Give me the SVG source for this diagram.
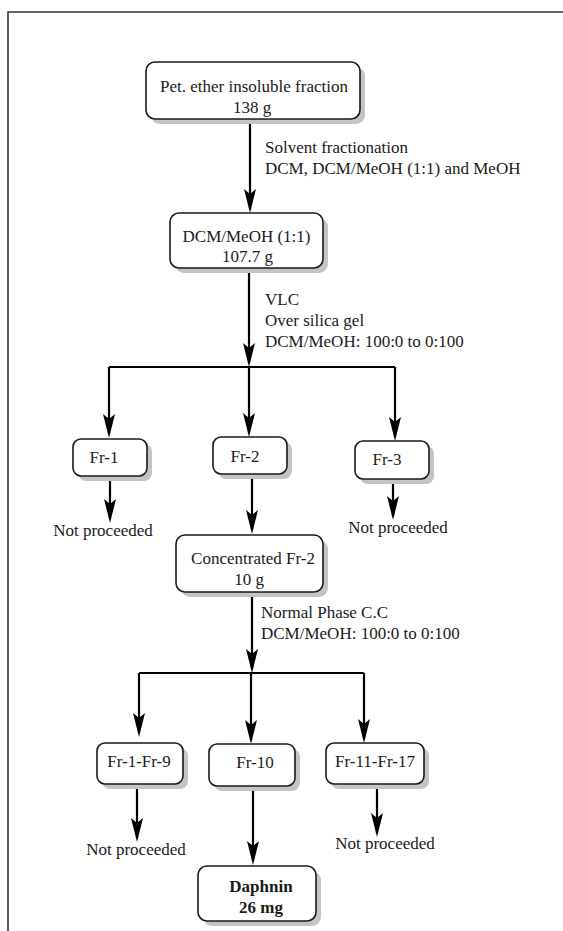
<svg xmlns="http://www.w3.org/2000/svg" width="563" height="931" viewBox="0 0 563 931">
<defs>
<style>
.t{font-family:'Liberation Serif','Times New Roman',Tinos,'DejaVu Serif',serif;font-size:17px;fill:#1a1a1a}
.c{text-anchor:middle}
.b{font-weight:bold}
.box{fill:#fff;stroke:#1a1a1a;stroke-width:1.6}
.sh{fill:#c4c4c4}
.ln{stroke:#000;stroke-width:2.2;fill:none}
.ar{stroke:#000;stroke-width:2.2;fill:none;marker-end:url(#ah)}
</style>
<marker id="ah" viewBox="0 0 24 12" refX="20" refY="6" markerWidth="24" markerHeight="12" markerUnits="userSpaceOnUse" orient="auto">
<path d="M0,0 L24,6 L0,12 L5,6 Z" fill="#000"/>
</marker>
</defs>
<rect width="563" height="931" fill="#fff"/>
<path d="M8,931 L8,12 L563,12" fill="none" stroke="#333" stroke-width="1.6"/>

<g id="connectors">
<line class="ar" x1="250" y1="119" x2="250" y2="209"/>
<line class="ar" x1="249" y1="268" x2="249" y2="363"/>
<line class="ln" x1="109" y1="367" x2="395" y2="367"/>
<line class="ar" x1="109" y1="367" x2="109" y2="434"/>
<line class="ar" x1="249" y1="367" x2="249" y2="433"/>
<line class="ar" x1="395" y1="367" x2="395" y2="437"/>
<line class="ar" x1="110" y1="476" x2="110" y2="519"/>
<line class="ar" x1="252" y1="474" x2="252" y2="530"/>
<line class="ar" x1="393" y1="479" x2="393" y2="516"/>
<line class="ar" x1="252" y1="592" x2="252" y2="669"/>
<line class="ln" x1="139" y1="673" x2="364" y2="673"/>
<line class="ar" x1="139" y1="673" x2="139" y2="733"/>
<line class="ar" x1="251" y1="673" x2="251" y2="740"/>
<line class="ar" x1="364" y1="673" x2="364" y2="739"/>
<line class="ar" x1="137" y1="782" x2="137" y2="838"/>
<line class="ar" x1="253" y1="786" x2="253" y2="861"/>
<line class="ar" x1="377" y1="786" x2="377" y2="833"/>
</g>

<g id="labels" font-family="Liberation Serif, serif">
<text class="t" x="265" y="153">Solvent fractionation</text>
<text class="t" x="265" y="174">DCM, DCM/MeOH (1:1) and MeOH</text>
<text class="t" x="265" y="305">VLC</text>
<text class="t" x="265" y="326">Over silica gel</text>
<text class="t" x="265" y="347">DCM/MeOH: 100:0 to 0:100</text>
<text class="t" x="261" y="618">Normal Phase C.C</text>
<text class="t" x="261" y="639">DCM/MeOH: 100:0 to 0:100</text>
</g>

<g id="n1">
<rect class="sh" x="151" y="67" width="214" height="57" rx="9"/>
<rect class="box" x="146" y="62" width="214" height="57" rx="9"/>
<text class="t c" x="254" y="92">Pet. ether insoluble fraction</text>
<text class="t c" x="252" y="113">138 g</text>
</g>
<g id="n2">
<rect class="sh" x="175" y="218" width="153" height="55" rx="9"/>
<rect class="box" x="170" y="213" width="153" height="55" rx="9"/>
<text class="t c" x="246.5" y="242">DCM/MeOH (1:1)</text>
<text class="t c" x="247.5" y="262">107.7 g</text>
</g>
<g id="fr1">
<rect class="sh" x="78" y="444" width="74" height="37" rx="8"/>
<rect class="box" x="73" y="439" width="74" height="37" rx="8"/>
<text class="t c" x="104" y="463">Fr-1</text>
</g>
<g id="fr2">
<rect class="sh" x="218" y="442" width="74" height="37" rx="8"/>
<rect class="box" x="213" y="437" width="74" height="37" rx="8"/>
<text class="t c" x="245" y="462">Fr-2</text>
</g>
<g id="fr3">
<rect class="sh" x="360" y="446" width="74" height="38" rx="8"/>
<rect class="box" x="355" y="441" width="74" height="38" rx="8"/>
<text class="t c" x="387" y="465">Fr-3</text>
</g>
<g id="np1"><text class="t c" x="103" y="536">Not proceeded</text></g>
<g id="np3"><text class="t c" x="398" y="533">Not proceeded</text></g>
<g id="conc">
<rect class="sh" x="181" y="540" width="147" height="57" rx="9"/>
<rect class="box" x="176" y="535" width="147" height="57" rx="9"/>
<text class="t c" x="253" y="564">Concentrated Fr-2</text>
<text class="t c" x="249" y="585">10 g</text>
</g>
<g id="fr1-9">
<rect class="sh" x="102" y="748" width="86" height="41" rx="8"/>
<rect class="box" x="97" y="743" width="86" height="41" rx="8"/>
<text class="t c" x="139" y="767">Fr-1-Fr-9</text>
</g>
<g id="fr10">
<rect class="sh" x="214" y="749" width="86" height="42" rx="8"/>
<rect class="box" x="209" y="744" width="86" height="42" rx="8"/>
<text class="t c" x="255" y="768">Fr-10</text>
</g>
<g id="fr11-17">
<rect class="sh" x="331" y="748" width="98" height="41" rx="8"/>
<rect class="box" x="326" y="743" width="98" height="41" rx="8"/>
<text class="t c" x="375" y="767">Fr-11-Fr-17</text>
</g>
<g id="np19"><text class="t c" x="136" y="855">Not proceeded</text></g>
<g id="np1117"><text class="t c" x="385" y="849">Not proceeded</text></g>
<g id="daphnin">
<rect class="sh" x="203" y="871" width="118" height="55" rx="9"/>
<rect class="box" x="198" y="866" width="118" height="55" rx="9"/>
<text class="t c b" x="261" y="892">Daphnin</text>
<text class="t c b" x="261" y="913">26 mg</text>
</g>
</svg>
